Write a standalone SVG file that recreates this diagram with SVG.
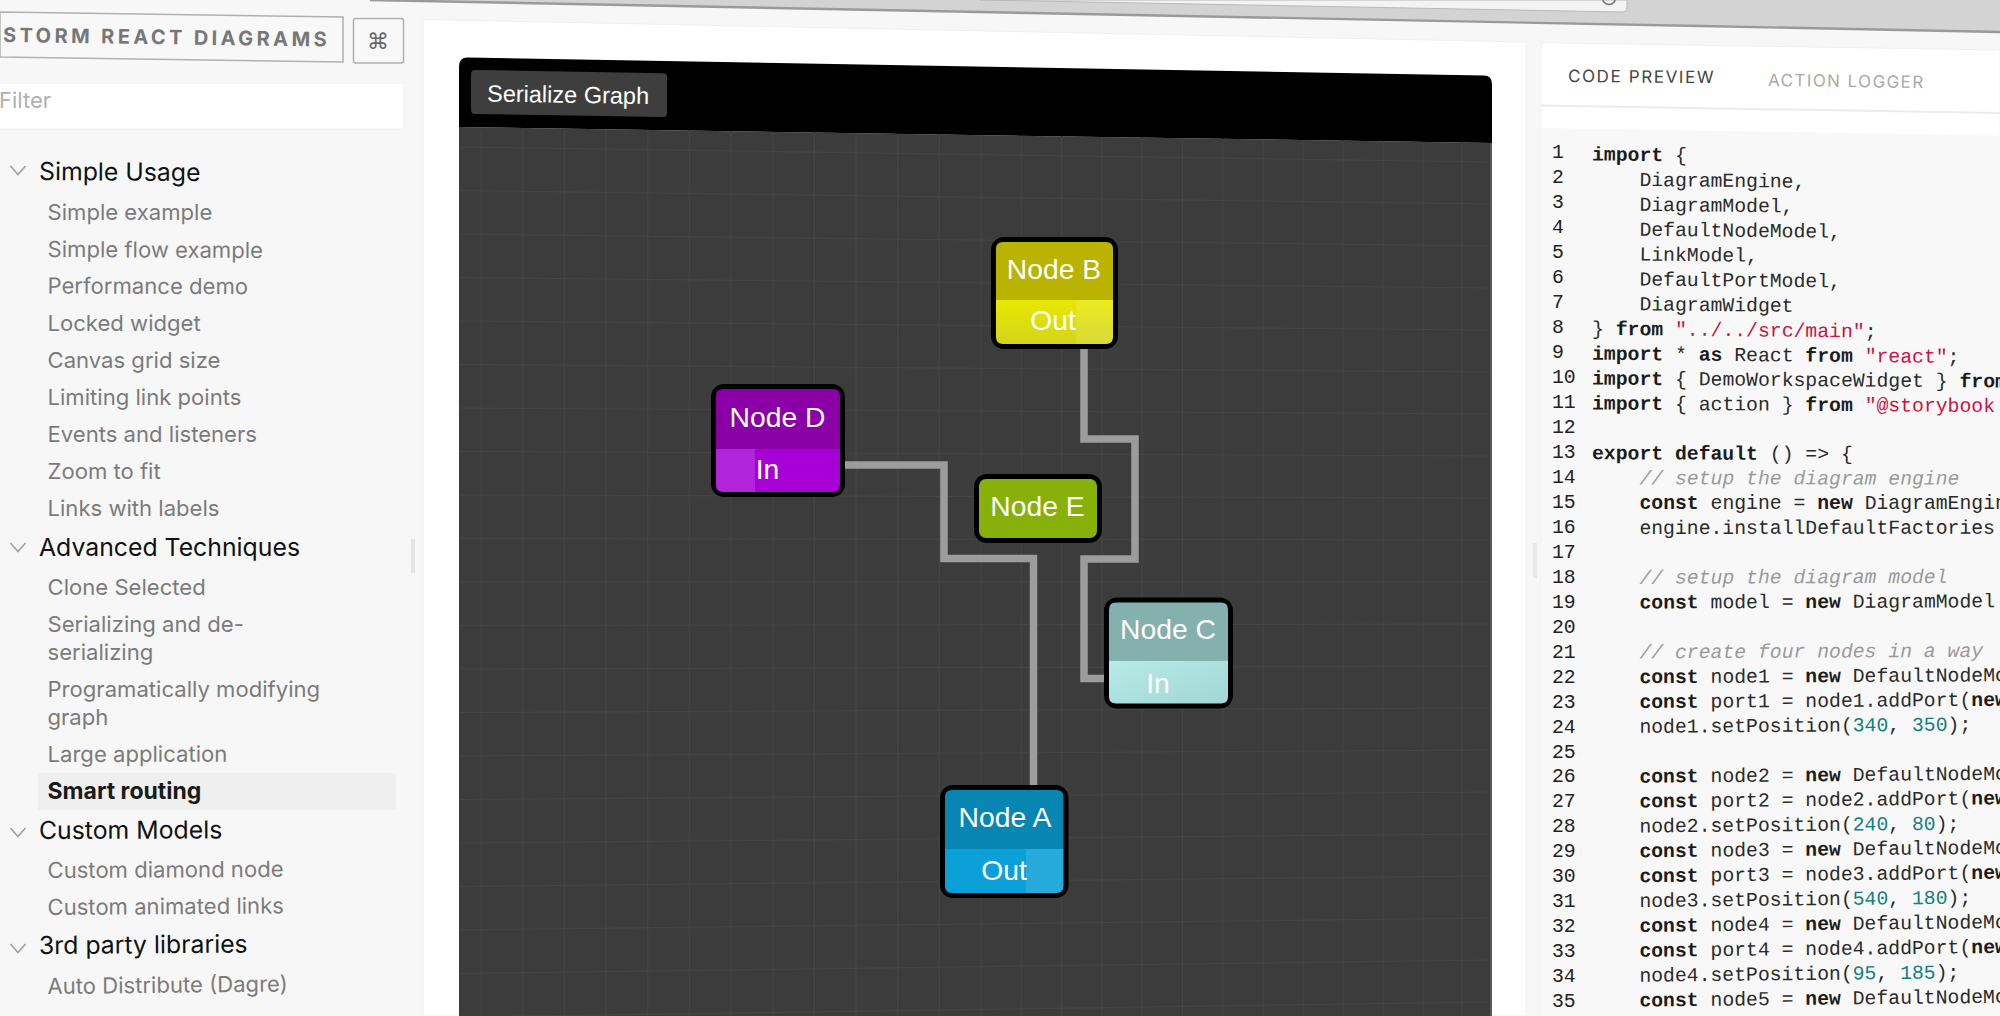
<svg xmlns="http://www.w3.org/2000/svg" width="2000" height="1016" viewBox="0 0 2000 1016">
<style>
text{font-family:"Inter","Liberation Sans",sans-serif}
.h{font-size:24.8px;fill:#111}
.i{font-size:22.1px;fill:#7b7b7b}
.nt{font-family:"Liberation Sans",Arial,sans-serif;font-size:28.3px;fill:#fff;text-anchor:middle}
.code text{font-family:"Liberation Mono","Courier New",monospace;font-size:19.75px;fill:#2a2a2a;white-space:pre}
.code .ln{fill:#222}
.k{font-weight:700;fill:#1c1c1c}
.s{fill:#d0103f}
.c{font-style:italic;fill:#9a9a9a}
.m{fill:#0f8080}
.chev{fill:none;stroke:#a0a0a0;stroke-width:1.6}
.wire{fill:none;stroke:#9c9c9c;stroke-width:7.5;stroke-linejoin:miter}
.edge{fill:#000}
</style>
<defs>
<linearGradient id="pY" x1="0" y1="0" x2="0" y2="1"><stop offset="0" stop-color="#e8e800"/><stop offset="1" stop-color="#d4d41c"/></linearGradient>
<linearGradient id="pC" x1="0" y1="0" x2="1" y2="1"><stop offset="0" stop-color="#b8ebe8"/><stop offset="1" stop-color="#a0d6d4"/></linearGradient>
</defs>
<rect width="2000" height="1016" fill="#f7f7f7"/>

<g id="chrome-bar">
<polygon points="370,0 980,12 1700,26 2000,32 2000,0" fill="#d3d3d3"/>
<polyline points="370,0 980,12 1700,26 2000,32" fill="none" stroke="#9a9a9a" stroke-width="2.4"/>
<path d="M980,0 L1622,12 Q1627,12 1627,7 L1627,0 Z" fill="#f3f3f3" stroke="#b8b8b8" stroke-width="1"/>
<circle cx="1609" cy="-2" r="6.500" fill="none" stroke="#777" stroke-width="1.500"/>
</g>

<g id="sidebar">
<polygon points="0,12 343,17 343,62 0,57" fill="#f8f8f8" stroke="#b0b0b0" stroke-width="1.500"/>
<text x="3" y="42" transform="rotate(0.8 3 42)" font-size="20" font-weight="700" fill="#777" letter-spacing="3.4">STORM REACT DIAGRAMS</text>
<rect x="353.500" y="18.500" width="50" height="44.500" rx="2" fill="#f8f8f8" stroke="#b0b0b0" stroke-width="1.500"/>
<text x="378" y="49" font-size="22" fill="#666" text-anchor="middle" style="font-family:'DejaVu Sans',sans-serif">⌘</text>
<rect x="-2" y="83" width="406" height="46" rx="2" fill="#fff" stroke="#f0f0f0"/>
<text x="-1" y="108" font-size="22" fill="#b0b0b0">Filter</text>

<rect x="38" y="773" width="358" height="37" fill="#efefef"/>
<path class="chev" d="M10.500,166 L18,174.500 L25.500,166"/>
<path class="chev" d="M10.500,543 L18,551.500 L25.500,543"/>
<path class="chev" d="M10.500,828 L18,836.500 L25.500,828"/>
<path class="chev" d="M10.500,944 L18,952.500 L25.500,944"/>

<text class="h" x="39" y="180" transform="rotate(0.4 39 180)">Simple Usage</text>
<text class="i" x="47.500" y="220">Simple example</text>
<text class="i" x="47.500" y="257" transform="rotate(0.3 47.500 257)">Simple flow example</text>
<text class="i" x="47.500" y="293.500" transform="rotate(0.2 47.500 293.500)">Performance demo</text>
<text class="i" x="47.500" y="330.500">Locked widget</text>
<text class="i" x="47.500" y="368">Canvas grid size</text>
<text class="i" x="47.500" y="404.500">Limiting link points</text>
<text class="i" x="47.500" y="442">Events and listeners</text>
<text class="i" x="47.500" y="478.500">Zoom to fit</text>
<text class="i" x="47.500" y="515.500">Links with labels</text>
<text class="h" x="39" y="556">Advanced Techniques</text>
<text class="i" x="47.500" y="595">Clone Selected</text>
<text class="i" x="47.500" y="632">Serializing and de-</text>
<text class="i" x="47.500" y="660">serializing</text>
<text class="i" x="47.500" y="697">Programatically modifying</text>
<text class="i" x="47.500" y="725">graph</text>
<text class="i" x="47.500" y="762" transform="rotate(-0.1 47.500 762)">Large application</text>
<text x="47.500" y="799" font-size="23" font-weight="700" fill="#1a1a1a">Smart routing</text>
<text class="h" x="39" y="839" transform="rotate(-0.2 39 839)">Custom Models</text>
<text class="i" x="47.500" y="878" transform="rotate(-0.3 47.500 878)">Custom diamond node</text>
<text class="i" x="47.500" y="915" transform="rotate(-0.4 47.500 915)">Custom animated links</text>
<text class="h" x="39" y="954" transform="rotate(-0.4 39 954)">3rd party libraries</text>
<text class="i" x="47.500" y="994" transform="rotate(-0.6 47.500 994)">Auto Distribute (Dagre)</text>
<rect x="411" y="539" width="4" height="34" fill="#e4e4e4"/>
</g>

<g id="main-panel">
<polygon points="423,19.500 1526,42 1526,1016 423,1016" fill="#fff" stroke="#f0f0f0"/>
<polygon points="459,127 1492,143 1492,1016 459,1016" fill="#3c3c3c"/>
<path id="grid" fill="none" stroke="#454545" stroke-width="1.200" d="M481,130V1016M522.700,130V1016M564.300,130V1016M606,130V1016M647.700,130V1016M689.300,130V1016M731,130V1016M772.700,130V1016M814.300,130V1016M856,130V1016M897.700,130V1016M939.300,130V1016M981,135V1016M1021.300,135V1016M1061.600,135V1016M1101.900,135V1016M1142.200,135V1016M1182.500,135V1016M1222.800,135V1016M1263.100,140V1016M1303,140V1016M1343,140V1016M1383,140V1016M1423,140V1016M1462,140V1016
M459,147L1490,162M459,190.500L1490,204M459,234L1490,246M459,277.500L1490,288M459,321L1490,330M459,364.500L1490,372M459,408L1490,414M459,451.500L1490,456M459,495L1490,498M459,538.500L1490,540M459,582L1490,582M459,625.500L1490,624M459,669L1490,666M459,712.500L1490,708M459,756L1490,750M459,799.500L1490,792M459,843L1490,834M459,886.500L1490,876M459,930L1490,918M459,973.500L1490,960M459,1017L1490,1002"/>
<rect x="1490" y="143" width="2" height="873" fill="#5a5a5a"/>
<path d="M459,66 Q459,57.300 468,57.500 L1484,75.500 Q1492,75.700 1492,84 L1492,143 L459,127 Z" fill="#000"/>
</g>

<g id="serialize-button">
<path d="M475,70 L663,73.300 Q667,73.400 667,77 L667,113 Q667,117 663,117 L475,114 Q471,114 471,110 L471,74 Q471,70 475,70 Z" fill="#3e3e3e"/>
<text x="487" y="101.500" transform="rotate(0.9 487 101.500)" style="font-family:'Liberation Sans',Arial,sans-serif;font-size:23.500px;fill:#fff">Serialize Graph</text>
</g>

<g id="connectors">
<polyline class="wire" points="1084,348 1084,439 1135,439 1135,559 1084,559 1084,678.500 1105,678.500"/>
<polyline class="wire" points="844,465 944,465 944,558.500 1033.500,558.500 1033.500,786"/>
</g>

<g id="node-b">
<rect class="edge" x="991" y="237" width="127" height="112" rx="13"/>
<path d="M996,300 V249 Q996,242 1003,242 H1106 Q1113,242 1113,249 V300 Z" fill="#bab300"/>
<path d="M996,300 H1113 V337 Q1113,344 1106,344 H1003 Q996,344 996,337 Z" fill="url(#pY)"/>
<path d="M1076,300 H1113 V337 Q1113,344 1106,344 H1076 Z" fill="#fff" opacity="0.13"/>
<text class="nt" x="1054" y="279">Node B</text>
<text class="nt" x="1053" y="330">Out</text>
</g>

<g id="node-d">
<rect class="edge" x="711" y="384" width="134" height="113" rx="13"/>
<path d="M716,449 V396 Q716,389 723,389 H833 Q840,389 840,396 V449 Z" fill="#8a00a6"/>
<path d="M716,449 H840 V485 Q840,492 833,492 H723 Q716,492 716,485 Z" fill="#a600d6"/>
<path d="M716,449 H755 V492 H723 Q716,492 716,485 Z" fill="#fff" opacity="0.14"/>
<text class="nt" x="777.500" y="426.500">Node D</text>
<text class="nt" x="767.500" y="479">In</text>
</g>

<g id="node-e">
<rect class="edge" x="974" y="474" width="128" height="69" rx="13"/>
<rect x="979" y="479" width="118" height="59" rx="7" fill="#87b00a"/>
<text class="nt" x="1037.500" y="516">Node E</text>
</g>

<g id="node-c">
<rect class="edge" x="1104" y="597.500" width="129" height="111" rx="13"/>
<path d="M1109,661 V609.500 Q1109,602.500 1116,602.500 H1221 Q1228,602.500 1228,609.500 V661 Z" fill="#84b0ae"/>
<path d="M1109,661 H1228 V696.500 Q1228,703.500 1221,703.500 H1116 Q1109,703.500 1109,696.500 Z" fill="url(#pC)"/>
<text class="nt" x="1168" y="639">Node C</text>
<text class="nt" x="1158" y="692.500">In</text>
</g>

<g id="node-a">
<rect class="edge" x="940" y="785" width="128.500" height="113" rx="13"/>
<path d="M945,849 V797 Q945,790 952,790 H1056.500 Q1063.500,790 1063.500,797 V849 Z" fill="#0786b4"/>
<path d="M945,849 H1063.500 V886 Q1063.500,893 1056.500,893 H952 Q945,893 945,886 Z" fill="#0ca0d8"/>
<path d="M1026,849 H1063.500 V886 Q1063.500,893 1056.500,893 H1026 Z" fill="#fff" opacity="0.11"/>
<text class="nt" x="1005" y="827">Node A</text>
<text class="nt" x="1004" y="880">Out</text>
</g>

<g id="code-panel">
<path d="M1545,42.800 L2000,50 V1016 H1541 V47 Q1541,42.700 1545,42.800 Z" fill="#fff" stroke="#f0f0f0"/>
<polyline points="1541,105.500 2000,113" fill="none" stroke="#ececec" stroke-width="2"/>
<polygon points="1541,128 2000,135.500 2000,1016 1541,1016" fill="#f8f8f8"/>
<text x="1568" y="82" transform="rotate(0.5 1568 82)" font-size="17" fill="#444" letter-spacing="1.600">CODE PREVIEW</text>
<text x="1768" y="86" transform="rotate(0.8 1768 86)" font-size="17" fill="#aaa" letter-spacing="1.400">ACTION LOGGER</text>
<rect x="1533" y="543" width="4" height="35" fill="#e8e8e8"/>
<g class="code">
<text class="ln" x="1552" y="158">1</text><text class="ln" x="1552" y="183">2</text><text class="ln" x="1552" y="208">3</text><text class="ln" x="1552" y="233">4</text><text class="ln" x="1552" y="258">5</text><text class="ln" x="1552" y="283">6</text><text class="ln" x="1552" y="308">7</text><text class="ln" x="1552" y="333">8</text><text class="ln" x="1552" y="358">9</text><text class="ln" x="1552" y="383">10</text><text class="ln" x="1552" y="408">11</text><text class="ln" x="1552" y="433">12</text><text class="ln" x="1552" y="458">13</text><text class="ln" x="1552" y="483">14</text><text class="ln" x="1552" y="508">15</text><text class="ln" x="1552" y="533">16</text><text class="ln" x="1552" y="558">17</text><text class="ln" x="1552" y="583">18</text><text class="ln" x="1552" y="607.500">19</text><text class="ln" x="1552" y="632.500">20</text><text class="ln" x="1552" y="657.500">21</text><text class="ln" x="1552" y="682.500">22</text><text class="ln" x="1552" y="707.500">23</text><text class="ln" x="1552" y="732.500">24</text><text class="ln" x="1552" y="757.500">25</text><text class="ln" x="1552" y="782">26</text><text class="ln" x="1552" y="807">27</text><text class="ln" x="1552" y="832">28</text><text class="ln" x="1552" y="857">29</text><text class="ln" x="1552" y="882">30</text><text class="ln" x="1552" y="907">31</text><text class="ln" x="1552" y="932">32</text><text class="ln" x="1552" y="957">33</text><text class="ln" x="1552" y="982">34</text><text class="ln" x="1552" y="1007">35</text>
<text x="1592" y="160.500" transform="rotate(.6 1592 160.500)"><tspan class="k">import</tspan> {</text>
<text x="1592" y="185.400" transform="rotate(.6 1592 185.400)">    DiagramEngine,</text>
<text x="1592" y="210.300" transform="rotate(.6 1592 210.300)">    DiagramModel,</text>
<text x="1592" y="235.200" transform="rotate(.6 1592 235.200)">    DefaultNodeModel,</text>
<text x="1592" y="260.100" transform="rotate(.6 1592 260.100)">    LinkModel,</text>
<text x="1592" y="285" transform="rotate(.55 1592 285)">    DefaultPortModel,</text>
<text x="1592" y="309.900" transform="rotate(.55 1592 309.900)">    DiagramWidget</text>
<text x="1592" y="334.800" transform="rotate(.55 1592 334.800)">} <tspan class="k">from</tspan> <tspan class="s">"../../src/main"</tspan>;</text>
<text x="1592" y="359.700" transform="rotate(.5 1592 359.700)"><tspan class="k">import</tspan> * <tspan class="k">as</tspan> React <tspan class="k">from</tspan> <tspan class="s">"react"</tspan>;</text>
<text x="1592" y="384.600" transform="rotate(.4 1592 384.600)"><tspan class="k">import</tspan> { DemoWorkspaceWidget } <tspan class="k">from</tspan></text>
<text x="1592" y="409.500" transform="rotate(.35 1592 409.500)"><tspan class="k">import</tspan> { action } <tspan class="k">from</tspan> <tspan class="s">"@storybook</tspan></text>
<text x="1592" y="459.300" transform="rotate(.15 1592 459.300)"><tspan class="k">export default</tspan> () =&gt; {</text>
<text x="1592" y="484.200" transform="rotate(.05 1592 484.200)">    <tspan class="c">// setup the diagram engine</tspan></text>
<text x="1592" y="509.100">    <tspan class="k">const</tspan> engine = <tspan class="k">new</tspan> DiagramEngin</text>
<text x="1592" y="534" transform="rotate(-.05 1592 534)">    engine.installDefaultFactories</text>
<text x="1592" y="583.800" transform="rotate(-.15 1592 583.800)">    <tspan class="c">// setup the diagram model</tspan></text>
<text x="1592" y="608.700" transform="rotate(-.2 1592 608.700)">    <tspan class="k">const</tspan> model = <tspan class="k">new</tspan> DiagramModel</text>
<text x="1592" y="658.500" transform="rotate(-.25 1592 658.500)">    <tspan class="c">// create four nodes in a way</tspan></text>
<text x="1592" y="683.400" transform="rotate(-.3 1592 683.400)">    <tspan class="k">const</tspan> node1 = <tspan class="k">new</tspan> DefaultNodeMo</text>
<text x="1592" y="708.300" transform="rotate(-.35 1592 708.300)">    <tspan class="k">const</tspan> port1 = node1.addPort(<tspan class="k">new</tspan></text>
<text x="1592" y="733.200" transform="rotate(-.4 1592 733.200)">    node1.setPosition(<tspan class="m">340</tspan>, <tspan class="m">350</tspan>);</text>
<text x="1592" y="783" transform="rotate(-.45 1592 783)">    <tspan class="k">const</tspan> node2 = <tspan class="k">new</tspan> DefaultNodeMo</text>
<text x="1592" y="807.900" transform="rotate(-.5 1592 807.900)">    <tspan class="k">const</tspan> port2 = node2.addPort(<tspan class="k">new</tspan></text>
<text x="1592" y="832.800" transform="rotate(-.5 1592 832.800)">    node2.setPosition(<tspan class="m">240</tspan>, <tspan class="m">80</tspan>);</text>
<text x="1592" y="857.700" transform="rotate(-.55 1592 857.700)">    <tspan class="k">const</tspan> node3 = <tspan class="k">new</tspan> DefaultNodeMo</text>
<text x="1592" y="882.600" transform="rotate(-.55 1592 882.600)">    <tspan class="k">const</tspan> port3 = node3.addPort(<tspan class="k">new</tspan></text>
<text x="1592" y="907.500" transform="rotate(-.6 1592 907.500)">    node3.setPosition(<tspan class="m">540</tspan>, <tspan class="m">180</tspan>);</text>
<text x="1592" y="932.400" transform="rotate(-.6 1592 932.400)">    <tspan class="k">const</tspan> node4 = <tspan class="k">new</tspan> DefaultNodeMo</text>
<text x="1592" y="957.300" transform="rotate(-.6 1592 957.300)">    <tspan class="k">const</tspan> port4 = node4.addPort(<tspan class="k">new</tspan></text>
<text x="1592" y="982.200" transform="rotate(-.6 1592 982.200)">    node4.setPosition(<tspan class="m">95</tspan>, <tspan class="m">185</tspan>);</text>
<text x="1592" y="1007.100" transform="rotate(-.6 1592 1007.100)">    <tspan class="k">const</tspan> node5 = <tspan class="k">new</tspan> DefaultNodeMo</text>
</g>
</g>
</svg>
